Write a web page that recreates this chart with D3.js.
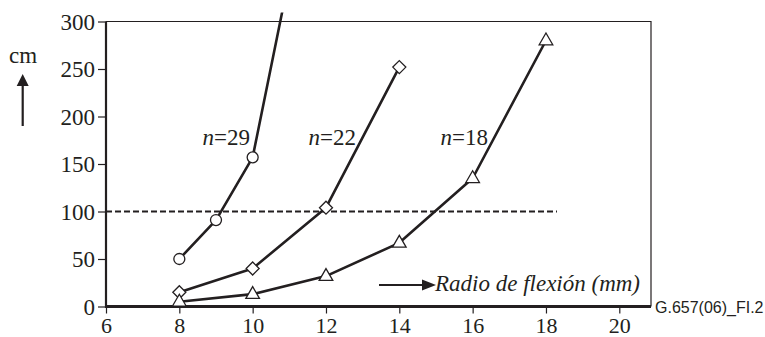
<!DOCTYPE html>
<html>
<head>
<meta charset="utf-8">
<script src="https://cdn.jsdelivr.net/npm/d3@7"></script>
</head>
<body style="margin:0">
<svg id="chart" width="765" height="337" font-family="Liberation Serif"></svg>
<script>
// bend radius (mm) vs length (cm) for each n
const radius29 = [8, 9, 10, 11];
const length29 = [50, 91, 157, 347];
const radius22 = [8, 10, 12, 14];
const length22 = [15, 40, 104, 252];
const radius18 = [8, 10, 12, 14, 16, 18];
const length18 = [5, 13, 32, 67, 135, 280];
const seriesNames = ["n=29", "n=22", "n=18"];
const xTicks = [6, 8, 10, 12, 14, 16, 18, 20];
const yTicks = [0, 50, 100, 150, 200, 250, 300];
const refLevel = 100;
const refEnd = 18.3;

(function () {
const ink = "#231f20";
const serifFont = t => t.style("font-family", '"Liberation Serif"').attr("font-size", 23);
const svg = d3.select("#chart");
const pL = 106, pR = 651, pT = 21.5, pB = 306.5;

const x = d3.scaleLinear([6, 20], [pL, 619.3]);
const y = d3.scaleLinear([0, 300], [pB, pT]);

// frame: thin top/right, thick left/bottom
svg.append("path")
	.attr("d", `M${pL},${pT}H${pR}V${pB}`)
	.attr("fill", "none").attr("stroke", ink).attr("stroke-width", 1.2);

const yAxis = d3.axisLeft(y).tickValues(yTicks).tickSizeInner(8).tickSizeOuter(0).tickPadding(3);
const gy = svg.append("g").attr("transform", `translate(${pL},0)`).call(yAxis);
gy.attr("font-family", null).attr("font-size", null);
gy.select(".domain").remove();
gy.selectAll("line").attr("stroke", ink).attr("stroke-width", 1.2);
gy.selectAll("text").call(serifFont).attr("fill", ink).attr("dy", "0.34em");

const xAxis = d3.axisBottom(x).tickValues(xTicks).tickSizeInner(7).tickSizeOuter(0).tickPadding(0);
const gx = svg.append("g").attr("transform", `translate(0,${pB})`).call(xAxis);
gx.attr("font-family", null).attr("font-size", null);
gx.select(".domain").remove();
gx.selectAll("line").attr("stroke", ink).attr("stroke-width", 1.2);
gx.selectAll("text").call(serifFont).attr("font-size", 22).attr("fill", ink)
	.attr("dy", null).attr("y", 26.5);

svg.append("line").attr("x1", pL).attr("x2", pL).attr("y1", pT).attr("y2", pB + 1.5)
	.attr("stroke", ink).attr("stroke-width", 2.2);
svg.append("line").attr("x1", pL - 1).attr("x2", pR).attr("y1", pB).attr("y2", pB)
	.attr("stroke", ink).attr("stroke-width", 3);

// reference line at 100 cm
svg.append("line")
	.attr("x1", x(6)).attr("x2", x(refEnd)).attr("y1", y(refLevel)).attr("y2", y(refLevel))
	.attr("stroke", ink).attr("stroke-width", 2).attr("stroke-dasharray", "6,3");

svg.append("clipPath").attr("id", "clip")
	.append("rect").attr("x", 0).attr("y", 12.5).attr("width", 765).attr("height", 337);

const line = d3.line().x(d => x(d[0])).y(d => y(d[1]));
const series = [
	{ xs: radius29, ys: length29, shape: "circle" },
	{ xs: radius22, ys: length22, shape: "diamond" },
	{ xs: radius18, ys: length18, shape: "triangle" },
];

series.forEach(s => {
	const pts = d3.zip(s.xs, s.ys);
	svg.append("path").datum(pts)
		.attr("d", line).attr("clip-path", "url(#clip)")
		.attr("fill", "none").attr("stroke", ink).attr("stroke-width", 2.6).attr("stroke-linejoin", "round");
	const shown = pts.filter(d => d[1] <= 300);
	const m = svg.append("g").selectAll("path").data(shown).join("path")
		.attr("transform", d => `translate(${x(d[0])},${y(d[1])})`)
		.attr("fill", "#fff").attr("stroke", ink).attr("stroke-width", 1.3);
	if (s.shape === "circle") m.attr("d", d3.symbol(d3.symbolCircle, 95));
	if (s.shape === "diamond") m.attr("d", "M0,-6.5L6.5,0L0,6.5L-6.5,0Z");
	if (s.shape === "triangle") m.attr("d", "M0,-7.5L6.8,4.3L-6.8,4.3Z");
});

// series labels
const labelPos = [[250, 145], [356, 145], [488, 145]];
seriesNames.forEach((name, i) => {
	const t = svg.append("text").attr("x", labelPos[i][0]).attr("y", labelPos[i][1])
		.attr("text-anchor", "end").attr("fill", ink).call(serifFont);
	t.append("tspan").attr("font-style", "italic").text(name.slice(0, 1));
	t.append("tspan").text(name.slice(1));
});

// y unit with upward arrow
svg.append("text").attr("x", 23).attr("y", 63).attr("text-anchor", "middle").attr("fill", ink)
	.call(serifFont).text("cm");
svg.append("line").attr("x1", 22.7).attr("x2", 22.7).attr("y1", 126).attr("y2", 84)
	.attr("stroke", ink).attr("stroke-width", 2.2);
svg.append("path").attr("d", "M22.7,74L28.7,86L16.7,86Z").attr("fill", ink);

// x label with arrow
svg.append("line").attr("x1", 379).attr("x2", 424).attr("y1", 285).attr("y2", 285)
	.attr("stroke", ink).attr("stroke-width", 2.2);
svg.append("path").attr("d", "M436,285L422,279.5L422,290.5Z").attr("fill", ink);
svg.append("text").attr("x", 435).attr("y", 291).attr("fill", ink)
	.call(serifFont).attr("font-style", "italic")
	.text("Radio de flexión (mm)");

svg.append("text").attr("x", 655).attr("y", 313).attr("fill", ink)
	.style("font-family", '"Liberation Sans"').attr("font-size", 16)
	.text("G.657(06)_FI.2");
})();
</script>
</body>
</html>
